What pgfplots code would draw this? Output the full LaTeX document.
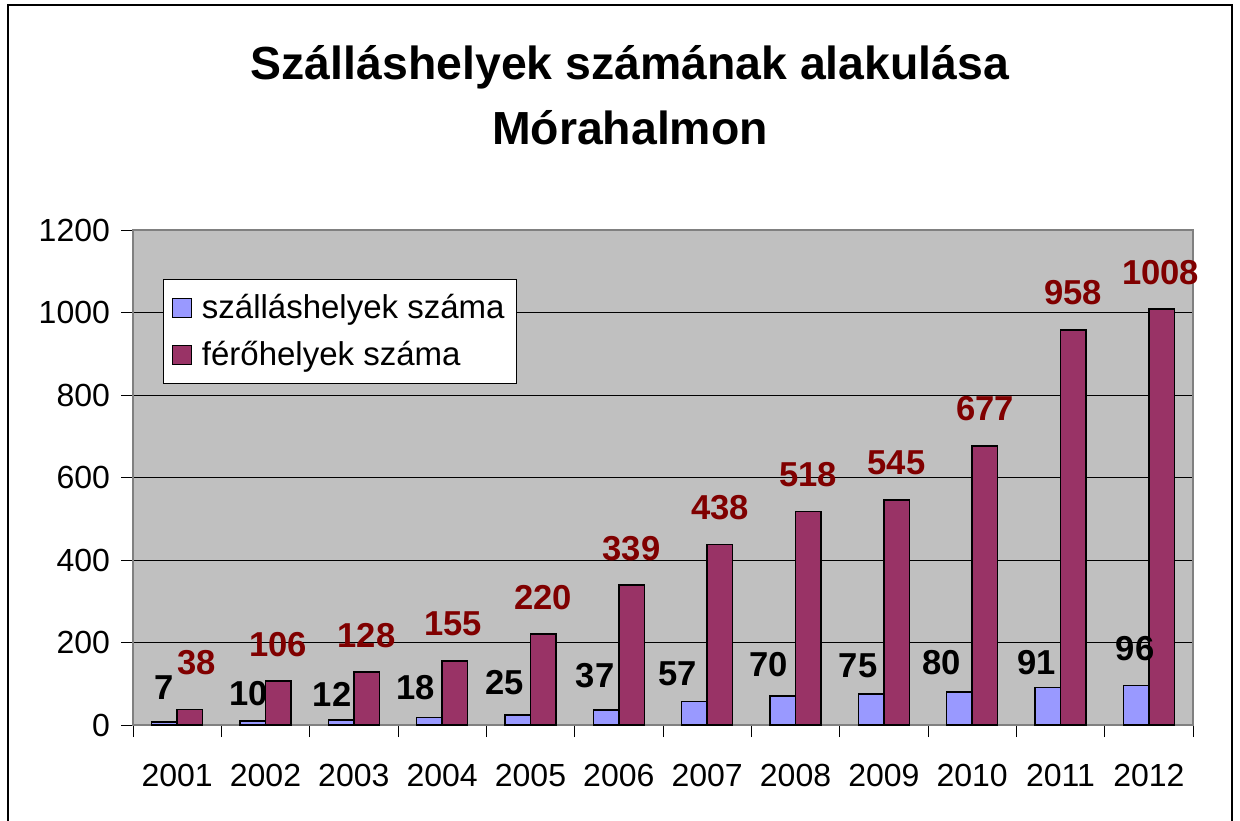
\documentclass[border=0pt]{standalone}
\usepackage{pgfplots}
\pgfplotsset{compat=1.18}
\usepackage{pgfplotstable}
\usepackage{fontspec}
\setmainfont{Liberation Sans}
\definecolor{blueb}{HTML}{9999FF}
\definecolor{marb}{HTML}{993366}
\definecolor{labred}{HTML}{800000}
\definecolor{plotbg}{HTML}{C0C0C0}

\pgfplotstableread{
x y dy dx
0 7 17.5 0
1 10 13.5 -2
2 12 13 -4.5
3 18 15 -7
4 25 16 -6.5
5 37 17 -5.5
6 57 14 -8.5
7 70 16 -7
8 75 14 -6.5
9 80 14.5 -9
10 91 12.5 -5.5
11 96 18.5 -0.5
}\szall

\pgfplotstableread{
x y dy dx
0 38 23.5 3.5
1 106 18.5 0
2 128 18.5 0
3 155 18.5 -1
4 220 18.5 0
5 339 18.5 0
6 438 18.5 0
7 518 18.5 0
8 545 18.5 0
9 677 18.5 0
10 958 18.5 0
11 1008 18.5 -0.5
}\fero

\begin{document}
\begin{tikzpicture}
\path[use as bounding box] (0pt,0pt) rectangle (620pt,-410pt);
\draw[line width=0.75pt] (4pt,-2.5pt) rectangle (616pt,-440pt);
\node[anchor=base, font=\bfseries\fontsize{23.2}{26}\selectfont] at (315pt,-39.5pt) {Szálláshelyek számának alakulása};
\node[anchor=base, font=\bfseries\fontsize{23.2}{26}\selectfont] at (315pt,-72pt) {Mórahalmon};
\begin{axis}[
  at={(66.5pt,-362.5pt)}, anchor=south west,
  scale only axis, width=530pt, height=247.5pt,
  xmin=-0.5, xmax=11.5, ymin=0, ymax=1200,
  ybar, bar width=12.75pt,
  axis background/.style={fill=plotbg},
  axis line style={draw=black!50, line width=0.75pt},
  ymajorgrids, major grid style={black, line width=0.5pt},
  tick align=outside, tick pos=left,
  major tick length=6pt,
  tick style={black, line width=0.5pt},
  ytick={0,200,...,1200},
  xtick={-0.5,0.5,...,11.5},
  xticklabels={},
  extra x ticks={0,1,...,11},
  extra x tick labels={2001,2002,2003,2004,2005,2006,2007,2008,2009,2010,2011,2012},
  extra x tick style={major tick length=0pt, grid=none,
     tick label style={yshift=-16pt}},
  /pgf/number format/assume math mode=true,
  /pgf/number format/1000 sep={},
  tick label style={font=\fontsize{16}{19}\selectfont},
  y tick label style={xshift=-2pt},
  legend style={at={(0.0283,0.902)}, anchor=north west, draw=black, line width=0.5pt,
     fill=white, font=\fontsize{16.5}{19}\selectfont, row sep=6pt, inner xsep=4pt, inner ysep=5.5pt},
  legend cell align=left,
  nodes near coords,
  visualization depends on={\thisrow{dy} \as \dy},
  visualization depends on={\thisrow{dx} \as \dx},
  every node near coord/.append style={anchor=center, yshift=\dy pt, xshift=\dx pt,
     font=\bfseries\fontsize{17.3}{20}\selectfont},
]
\addplot[fill=blueb, draw=black, line width=0.8pt, bar shift=-6.375pt,
  every node near coord/.append style={text=black},
  legend image code/.code={\draw[fill=blueb, draw=black, line width=0.6pt] (0pt,-4.75pt) rectangle (9.5pt,4.75pt); \path (12.5pt,0pt);}
  ] table[x=x, y=y] {\szall};
\addlegendentry{szálláshelyek száma}
\addplot[fill=marb, draw=black, line width=0.8pt, bar shift=6.375pt,
  every node near coord/.append style={text=labred},
  legend image code/.code={\draw[fill=marb, draw=black, line width=0.6pt] (0pt,-4.75pt) rectangle (9.5pt,4.75pt); \path (12.5pt,0pt);}
  ] table[x=x, y=y] {\fero};
\addlegendentry{férőhelyek száma}
\end{axis}
\end{tikzpicture}
\end{document}
